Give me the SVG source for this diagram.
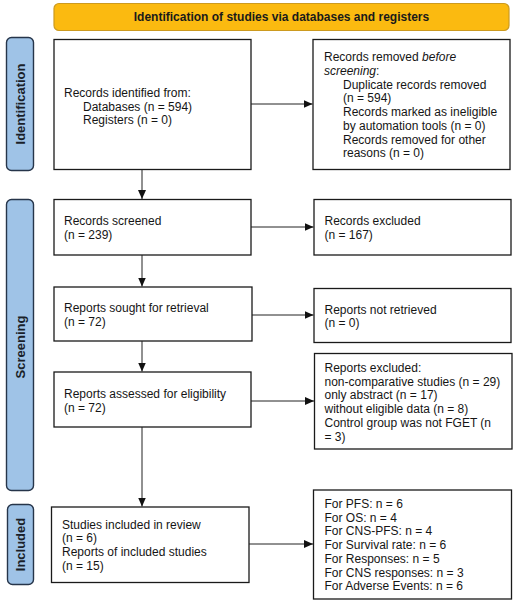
<svg xmlns="http://www.w3.org/2000/svg" width="517" height="605" viewBox="0 0 517 605">
<defs>
<style>
.box{fill:#fff;stroke:#1a1a1a;stroke-width:1.3}
.hdr{fill:#FBBA10;stroke:#CC9A1F;stroke-width:1.2}
.side{fill:#9FC3E7;stroke:#26354A;stroke-width:1.4}
.t{font-family:"Liberation Sans",Arial,sans-serif;font-size:12px;fill:#151515}
.hb{font-family:"Liberation Sans",Arial,sans-serif;font-size:12px;font-weight:bold;fill:#1a1a1a}
.sb{font-family:"Liberation Sans",Arial,sans-serif;font-size:13px;font-weight:bold;fill:#1a1f2a}
.c{stroke:#222;stroke-width:1;fill:none;marker-end:url(#ah)}
</style>
<marker id="ah" markerUnits="userSpaceOnUse" markerWidth="9" markerHeight="8" refX="9" refY="4" orient="auto">
<path d="M0,0 L9,4 L0,8 Z" fill="#111"/>
</marker>
</defs>

<g id="header">
<rect class="hdr" x="54" y="3.5" width="455" height="27" rx="5"/>
<text class="hb" x="281.5" y="21.3" text-anchor="middle">Identification of studies via databases and registers</text>
</g>

<g id="side-identification">
<rect class="side" x="6.5" y="37.5" width="27" height="133" rx="5"/>
<text class="sb" transform="translate(24.5,104) rotate(-90)" text-anchor="middle">Identification</text>
</g>
<g id="side-screening">
<rect class="side" x="6.5" y="199.5" width="27" height="291" rx="5"/>
<text class="sb" transform="translate(24.5,347) rotate(-90)" text-anchor="middle">Screening</text>
</g>
<g id="side-included">
<rect class="side" x="7.5" y="504.5" width="26" height="80" rx="5"/>
<text class="sb" transform="translate(25,544.5) rotate(-90)" text-anchor="middle">Included</text>
</g>

<g id="records-identified">
<rect class="box" x="54" y="39.5" width="197" height="130"/>
<text class="t" x="64" y="97">Records identified from:</text>
<text class="t" x="83" y="110.5">Databases (n = 594)</text>
<text class="t" x="83" y="124">Registers (n = 0)</text>
</g>

<g id="records-removed">
<rect class="box" x="313" y="39.5" width="197" height="130"/>
<text class="t" x="324" y="61.3">Records removed <tspan font-style="italic">before</tspan></text>
<text class="t" x="324" y="75"><tspan font-style="italic">screening</tspan>:</text>
<text class="t" x="343" y="88.7">Duplicate records removed</text>
<text class="t" x="343" y="102.4">(n = 594)</text>
<text class="t" x="343" y="116.1">Records marked as ineligible</text>
<text class="t" x="343" y="129.8">by automation tools (n = 0)</text>
<text class="t" x="343" y="143.5">Records removed for other</text>
<text class="t" x="343" y="157.2">reasons (n = 0)</text>
</g>

<g id="records-screened">
<rect class="box" x="54" y="199.5" width="197" height="55.5"/>
<text class="t" x="64" y="225.3">Records screened</text>
<text class="t" x="64" y="239">(n = 239)</text>
</g>

<g id="records-excluded">
<rect class="box" x="314" y="199.5" width="197" height="55.5"/>
<text class="t" x="324.5" y="225.3">Records excluded</text>
<text class="t" x="324.5" y="239">(n = 167)</text>
</g>

<g id="reports-sought">
<rect class="box" x="54" y="287" width="198" height="54"/>
<text class="t" x="64" y="312">Reports sought for retrieval</text>
<text class="t" x="64" y="325.7">(n = 72)</text>
</g>

<g id="reports-not-retrieved">
<rect class="box" x="314" y="288.5" width="197" height="54"/>
<text class="t" x="324.5" y="313.5">Reports not retrieved</text>
<text class="t" x="324.5" y="327.2">(n = 0)</text>
</g>

<g id="reports-assessed">
<rect class="box" x="54" y="372" width="197" height="55"/>
<text class="t" x="64" y="398">Reports assessed for eligibility</text>
<text class="t" x="64" y="411.7">(n = 72)</text>
</g>

<g id="reports-excluded">
<rect class="box" x="314.5" y="353.5" width="197.5" height="95.5"/>
<text class="t" x="324.5" y="372">Reports excluded:</text>
<text class="t" x="324.5" y="385.7">non-comparative studies (n = 29)</text>
<text class="t" x="324.5" y="399.4">only abstract (n = 17)</text>
<text class="t" x="324.5" y="413.1">without eligible data  (n = 8)</text>
<text class="t" x="324.5" y="426.8">Control group was not FGET  (n</text>
<text class="t" x="324.5" y="440.5">= 3)</text>
</g>

<g id="studies-included">
<rect class="box" x="51.5" y="507" width="197.5" height="75.5"/>
<text class="t" x="62" y="528.7">Studies included in review</text>
<text class="t" x="62" y="542.4">(n = 6)</text>
<text class="t" x="62" y="556.1">Reports of included studies</text>
<text class="t" x="62" y="569.8">(n = 15)</text>
</g>

<g id="outcomes">
<rect class="box" x="313.5" y="490" width="198" height="109"/>
<text class="t" x="324.5" y="508">For PFS: n = 6</text>
<text class="t" x="324.5" y="521.7">For OS: n = 4</text>
<text class="t" x="324.5" y="535.4">For CNS-PFS: n = 4</text>
<text class="t" x="324.5" y="549.1">For Survival rate: n = 6</text>
<text class="t" x="324.5" y="562.8">For Responses: n = 5</text>
<text class="t" x="324.5" y="576.5">For CNS responses: n = 3</text>
<text class="t" x="324.5" y="590.2">For Adverse Events: n = 6</text>
</g>

<g id="connectors">
<line class="c" x1="251" y1="104" x2="312.5" y2="104"/>
<line class="c" x1="142" y1="169.5" x2="142" y2="199"/>
<line class="c" x1="251" y1="227" x2="313.5" y2="227"/>
<line class="c" x1="142" y1="255" x2="142" y2="286.5"/>
<line class="c" x1="252" y1="315" x2="313.5" y2="315"/>
<line class="c" x1="142" y1="341" x2="142" y2="371.5"/>
<line class="c" x1="251" y1="401" x2="314" y2="401"/>
<line class="c" x1="142" y1="427" x2="142" y2="506.5"/>
<line class="c" x1="249" y1="544" x2="313" y2="544"/>
</g>
</svg>
